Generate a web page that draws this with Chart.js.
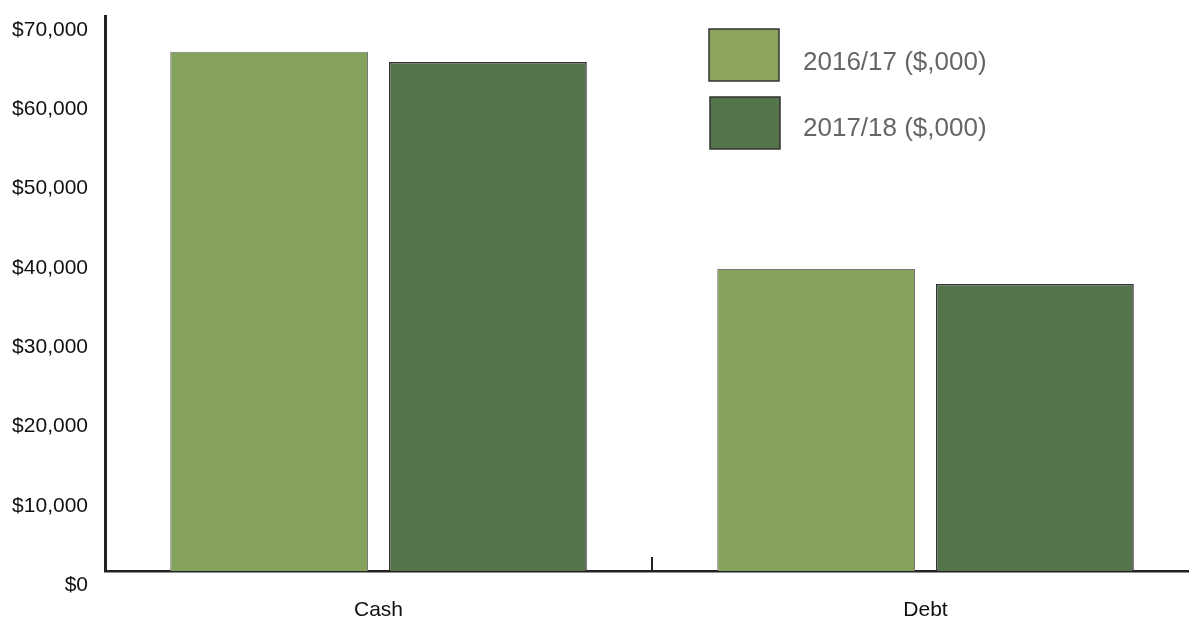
<!DOCTYPE html>
<html>
<head>
<meta charset="utf-8">
<script src="https://cdn.jsdelivr.net/npm/chart.js@4"></script>
<style>
  html, body { margin: 0; padding: 0; overflow: hidden; background: #fff; }
  #wrap { width: 1200px; height: 619px; }
</style>
</head>
<body>
<div id="wrap"><canvas id="balanceChart"></canvas></div>
<script>
// Chart data
const categories = ["Cash", "Debt"];
const seriesLabels = ["2016/17 ($,000)", "2017/18 ($,000)"];
const values2016 = [65500, 38100];
const values2017 = [64200, 36200];
const yTicks = [0, 10000, 20000, 30000, 40000, 50000, 60000, 70000];

const FONT = "'Liberation Sans', Arial, sans-serif";

// Stacked legend in the top right, drawn from the dataset settings
const boxLegend = {
  id: "boxLegend",
  afterDraw(chart) {
    const ctx = chart.ctx;
    ctx.save();
    chart.data.datasets.forEach((ds, i) => {
      const x = 709 + i;
      const y = 29 + i * 68;
      ctx.fillStyle = ds.legendFill;
      ctx.fillRect(x, y, 70, 52);
      ctx.lineWidth = 1.5;
      ctx.strokeStyle = "#333";
      ctx.strokeRect(x, y, 70, 52);
      ctx.fillStyle = "#666";
      ctx.font = "26px " + FONT;
      ctx.textBaseline = "middle";
      ctx.fillText(ds.label, 803, 63 + i * 66);
    });
    ctx.restore();
  }
};

// Small inward tick between the two categories
const midTick = {
  id: "midTick",
  afterDraw(chart) {
    const xs = chart.scales.x;
    const mid = (xs.getPixelForValue(0) + xs.getPixelForValue(1)) / 2;
    const ctx = chart.ctx;
    ctx.save();
    ctx.strokeStyle = "#222";
    ctx.lineWidth = 2;
    ctx.beginPath();
    ctx.moveTo(mid, chart.chartArea.bottom);
    ctx.lineTo(mid, chart.chartArea.bottom - 14);
    ctx.stroke();
    ctx.restore();
  }
};

const ctx = document.getElementById("balanceChart").getContext("2d");
new Chart(ctx, {
  type: "bar",
  data: {
    labels: categories,
    datasets: [
      {
        label: seriesLabels[0],
        data: values2016,
        backgroundColor: "#84a25b",
        borderColor: "#777",
        borderWidth: 1,
        legendFill: "#8ba55f"
      },
      {
        label: seriesLabels[1],
        data: values2017,
        backgroundColor: "#54744b",
        borderColor: "#333",
        borderWidth: 1.5,
        legendFill: "#54744b"
      }
    ]
  },
  options: {
    responsive: true,
    maintainAspectRatio: false,
    animation: false,
    layout: { padding: { top: 16, right: 1, left: 0, bottom: 0 } },
    categoryPercentage: 0.8,
    barPercentage: 0.904,
    plugins: {
      legend: { display: false },
      tooltip: { enabled: false }
    },
    scales: {
      x: {
        grid: { display: false, drawTicks: false },
        border: { display: true, color: "#222", width: 2.5 },
        ticks: { color: "#111", font: { family: FONT, size: 21 }, padding: 27 },
        afterFit: scale => {
          scale.height = 48;
          scale.paddingLeft = 0;
          scale.paddingRight = 0;
        }
      },
      y: {
        min: 0,
        max: 70000,
        afterBuildTicks: scale => { scale.ticks = yTicks.map(v => ({ value: v })); },
        grid: { display: false, drawTicks: false },
        border: { display: true, color: "#222", width: 3 },
        ticks: {
          color: "#111",
          font: { family: FONT, size: 21 },
          padding: 17,
          labelOffset: 14,
          callback: v => "$" + Number(v).toLocaleString("en-US")
        },
        afterFit: scale => {
          scale.width = 105;
          scale.paddingTop = 0;
          scale.paddingBottom = 0;
        }
      }
    }
  },
  plugins: [boxLegend, midTick]
});
</script>
</body>
</html>
